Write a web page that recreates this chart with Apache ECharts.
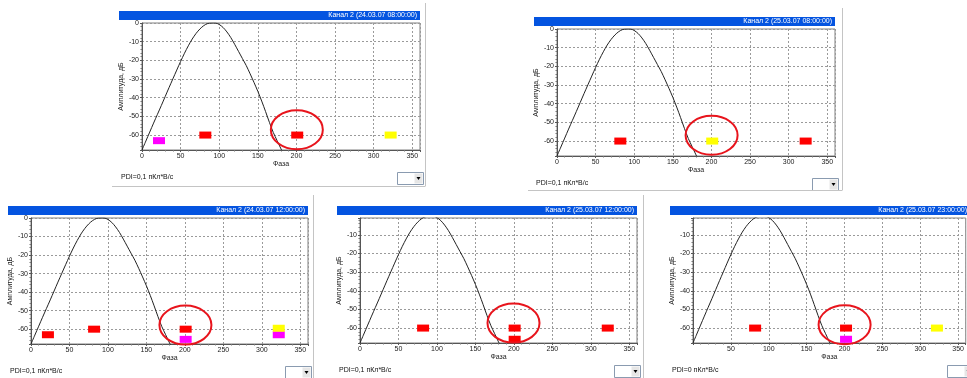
<!DOCTYPE html>
<html>
<head>
<meta charset="utf-8">
<script src="https://cdn.jsdelivr.net/npm/echarts@6/dist/echarts.min.js"></script>
<style>
  html, body { margin: 0; padding: 0; background: #fff; }
  #chart { width: 967px; height: 378px; }
</style>
</head>
<body>
<div id="chart"></div>
<script>
// phase (deg) and amplitude (dB) of the black curve, same in every panel
const phaseDeg = [0, 5, 10, 15, 20, 25, 30, 35, 40, 45, 50, 55, 60, 65, 70, 75, 80, 85, 90,
  95, 100, 105, 110, 115, 120, 125, 130, 135, 140, 145, 150, 155, 160, 165, 170, 175, 180, 185];
const curveDb = [-68, -63.2, -58.4, -53.6, -48.9, -44.2, -39.4, -34.6, -29.9, -25.2, -20.6, -16.2,
  -12.2, -8.6, -5.6, -3.2, -1.4, -0.3, 0, 0, -0.8, -2.4, -4.8, -7.8, -11.4, -15.2, -19, -22.8,
  -27.2, -31.8, -36.6, -41.8, -47.4, -53.2, -58.6, -63, -67.4, -71.8];

const panelTitles = [
  "Канал 2 (24.03.07 08:00:00)",
  "Канал 2 (25.03.07 08:00:00)",
  "Канал 2 (24.03.07 12:00:00)",
  "Канал 2 (25.03.07 12:00:00)",
  "Канал 2 (25.03.07 23:00:00)",
];
const pdiLabels = [
  "PDI=0,1 пКл*В/с",
  "PDI=0,1 пКл*В/с",
  "PDI=0,1 пКл*В/с",
  "PDI=0,1 пКл*В/с",
  "PDI=0 пКл*В/с",
];

// discharge marks per panel: [phase, dB]
const redMarks = [
  [[82, -60], [201, -60]],
  [[82, -60], [322, -60]],
  [[22, -63], [82, -60], [201, -60]],
  [[82, -60], [201, -60], [201, -66], [322, -60]],
  [[82, -60], [202, -60]],
];
const magentaMarks = [
  [[22, -63]],
  [],
  [[201, -65.5], [322, -63]],
  [],
  [[202, -66]],
];
const yellowMarks = [
  [[322, -60]],
  [[201, -60]],
  [[322, -59.5]],
  [],
  [[322, -60]],
];
// centre of the hand-drawn red ring
const ringCentre = [[200.5, -57.1], [200.2, -56.9], [200.7, -57.8], [199.5, -57.3], [200.1, -58.2]];

const yMin = [-68, -68, -68, -68, -68];
const yMax = [0, 0, 0, -1, -1];
const showZeroPhase = [true, true, true, true, false];

// plot rectangles in px
const panels = [
  { left: 142, top: 23, width: 278, height: 127 },
  { left: 557, top: 29, width: 278, height: 127 },
  { left: 31, top: 218, width: 277, height: 126 },
  { left: 360, top: 218, width: 277, height: 125 },
  { left: 693, top: 218, width: 277, height: 125 },
];

const FONT = '"Liberation Sans", Arial, sans-serif';
const gridLine = { show: true, lineStyle: { color: "#9a9a9a", type: [2, 2], width: 1 } };

const chart = echarts.init(document.getElementById("chart"));

const grids = [], xAxes = [], yAxes = [], series = [], graphics = [];

panels.forEach((p, i) => {
  grids.push({ left: p.left, top: p.top, width: p.width, height: p.height,
    show: true, borderColor: "#808080", borderWidth: 1, backgroundColor: "#fff" });

  xAxes.push({
    gridIndex: i, type: "value", min: 0, max: 360, interval: 50,
    name: "Фаза", nameLocation: "middle", nameGap: 11,
    nameTextStyle: { fontFamily: FONT, fontSize: 7, color: "#222" },
    axisLine: { show: true, onZero: false, lineStyle: { color: "#555" } },
    axisTick: { show: true, length: 2, lineStyle: { color: "#555" } },
    minorTick: { show: true, splitNumber: 5, length: 1.5, lineStyle: { color: "#777" } },
    axisLabel: { fontFamily: FONT, fontSize: 7, color: "#222", margin: 3,
      showMinLabel: showZeroPhase[i], showMaxLabel: false },
    splitLine: gridLine,
  });

  yAxes.push({
    gridIndex: i, type: "value", min: yMin[i], max: yMax[i], splitNumber: 7,
    name: "Амплитуда, дБ", nameLocation: "middle", nameGap: 15, nameRotate: 90,
    nameTextStyle: { fontFamily: FONT, fontSize: 7, color: "#222" },
    axisLine: { show: true, onZero: false, lineStyle: { color: "#555" } },
    axisTick: { show: true, length: 2, lineStyle: { color: "#555" } },
    minorTick: { show: true, splitNumber: 5, length: 1.5, lineStyle: { color: "#777" } },
    axisLabel: { fontFamily: FONT, fontSize: 7, color: "#222", margin: 3,
      showMinLabel: false, showMaxLabel: yMax[i] === 0 },
    splitLine: gridLine,
  });

  series.push({
    type: "line", xAxisIndex: i, yAxisIndex: i, symbol: "none", smooth: 0.3,
    data: phaseDeg.map((x, k) => [x, curveDb[k]]),
    lineStyle: { color: "#222", width: 1 }, silent: true, z: 2,
  });

  [[redMarks[i], "#ff0000"], [magentaMarks[i], "#ff00ff"], [yellowMarks[i], "#ffff00"]].forEach(([d, c]) => {
    if (!d.length) return;
    series.push({
      type: "scatter", xAxisIndex: i, yAxisIndex: i, symbol: "rect", symbolSize: [12, 7],
      data: d, itemStyle: { color: c, opacity: 1 }, silent: true, z: 3,
    });
  });

  series.push({
    type: "custom", xAxisIndex: i, yAxisIndex: i, data: [ringCentre[i]], silent: true, z: 5, clip: false,
    renderItem: (params, api) => {
      const c = api.coord([api.value(0), api.value(1)]);
      return { type: "ellipse", shape: { cx: c[0], cy: c[1], rx: 26, ry: 19.5 },
        style: { fill: "none", stroke: "#e8141c", lineWidth: 2 } };
    },
  });

  // window bits: title bar, PDI caption, dropdown
  const right = p.left + p.width, bottom = p.top + p.height;
  graphics.push(
    { type: "rect", shape: { x: p.left - 23, y: p.top - 12, width: p.width + 23, height: 9 },
      style: { fill: "#0454e0" }, silent: true },
    { type: "text", x: right - 3, y: p.top - 7.5,
      style: { text: panelTitles[i], fill: "#fff", font: "7px " + FONT, align: "right", verticalAlign: "middle" }, silent: true },
    { type: "text", x: p.left - 21, y: bottom + 27,
      style: { text: pdiLabels[i], fill: "#111", font: "7px " + FONT, align: "left", verticalAlign: "middle" }, silent: true },
    { type: "rect", shape: { x: right - 22.5, y: bottom + 22.5, width: 26, height: 12 },
      style: { fill: "#fff", stroke: "#8a9bb0", lineWidth: 1 }, silent: true },
    { type: "rect", shape: { x: right - 5.5, y: bottom + 23.5, width: 8, height: 10 },
      style: { fill: "#e6e6e6" }, silent: true },
    { type: "polygon", shape: { points: [[right - 3.5, bottom + 27], [right + 0.5, bottom + 27], [right - 1.5, bottom + 30]] },
      style: { fill: "#000" }, silent: true },
  );
});

// light window edges
const edge = { stroke: "#c4c4c4", lineWidth: 1 };
[
  [425.5, 3, 425.5, 186], [112, 186.5, 425.5, 186.5],
  [842.5, 8, 842.5, 190], [528, 190.5, 842.5, 190.5],
  [313.5, 195, 313.5, 378],
  [643.5, 195, 643.5, 378],
].forEach(([x1, y1, x2, y2]) => {
  graphics.push({ type: "line", shape: { x1, y1, x2, y2 }, style: edge, silent: true });
});

chart.setOption({
  animation: false,
  backgroundColor: "#fff",
  grid: grids,
  xAxis: xAxes,
  yAxis: yAxes,
  series,
  graphic: graphics,
});
</script>
</body>
</html>
